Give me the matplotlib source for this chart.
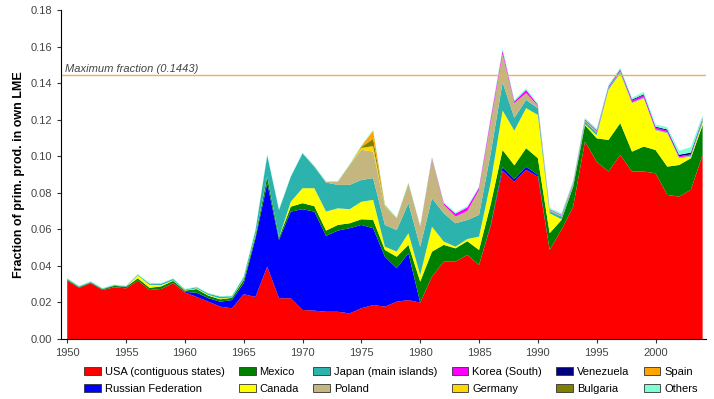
import matplotlib
matplotlib.use("Agg")
import matplotlib.pyplot as plt
from matplotlib.patches import Patch

plt.rcParams['font.family'] = ['Liberation Sans', 'DejaVu Sans']

years = list(range(1950, 2005))

# fraction of primary production, one list per country (stacked bottom -> top)
usa = [0.0320, 0.0280, 0.0305, 0.0268, 0.0283, 0.0277, 0.0320, 0.0268, 0.0274, 0.0305,
       0.0255, 0.0230, 0.0204, 0.0177, 0.0168, 0.0245, 0.0230, 0.0396, 0.0223, 0.0223,
       0.0159, 0.0155, 0.0149, 0.0149, 0.0140, 0.0168, 0.0186, 0.0177, 0.0204, 0.0213,
       0.0199, 0.0341, 0.0423, 0.0423, 0.0460, 0.0405, 0.0620, 0.0920, 0.0860, 0.0925,
       0.0888, 0.0487, 0.0597, 0.0724, 0.1080, 0.0970, 0.0916, 0.1007, 0.0916, 0.0916,
       0.0907, 0.0788, 0.0779, 0.0816, 0.1007]
russia = [0, 0, 0, 0, 0, 0, 0, 0, 0, 0,
          0.0003, 0.0023, 0.0019, 0.0027, 0.0045, 0.0060, 0.0320, 0.0456, 0.0319, 0.0474,
          0.0551, 0.0542, 0.0415, 0.0444, 0.0466, 0.0456, 0.0420, 0.0273, 0.0183, 0.0256,
          0, 0, 0, 0, 0, 0, 0.0005, 0.0020, 0.0015, 0.0018,
          0.0010, 0, 0, 0, 0, 0, 0, 0, 0, 0,
          0, 0, 0, 0, 0]
mexico = [0.0005, 0.0004, 0.0004, 0.0004, 0.0008, 0.0008, 0.0012, 0.0012, 0.0014, 0.0013,
          0.0007, 0.0020, 0.0014, 0.0013, 0.0012, 0.0018, 0.0015, 0.0036, 0.0013, 0.0027,
          0.0033, 0.0030, 0.0029, 0.0031, 0.0027, 0.0031, 0.0046, 0.0037, 0.0063, 0.0046,
          0.0115, 0.0137, 0.0092, 0.0073, 0.0075, 0.0082, 0.0115, 0.0094, 0.0075, 0.0101,
          0.0091, 0.0092, 0.0054, 0.0110, 0.0090, 0.0128, 0.0173, 0.0174, 0.0109, 0.0137,
          0.0127, 0.0155, 0.0173, 0.0173, 0.0164]
canada = [0, 0, 0, 0, 0, 0, 0.0016, 0.0016, 0.0007, 0.0003,
          0.0002, 0.0004, 0.0004, 0.0005, 0.0002, 0.0004, 0.0005, 0.0002, 0.0001, 0.0027,
          0.0082, 0.0098, 0.0104, 0.0091, 0.0077, 0.0096, 0.0109, 0.0018, 0.0028, 0.0064,
          0.0036, 0.0136, 0.0018, 0.0009, 0.0012, 0.0073, 0.0120, 0.0216, 0.0190, 0.0219,
          0.0237, 0.0109, 0.0004, 0.0004, 0.0005, 0.0017, 0.0274, 0.0273, 0.0265, 0.0264,
          0.0108, 0.0183, 0.0037, 0.0009, 0.0014]
japan = [0.0005, 0.0004, 0.0004, 0.0004, 0.0004, 0.0004, 0.0004, 0.0007, 0.0008, 0.0008,
         0.0004, 0.0006, 0.0007, 0.0010, 0.0007, 0.0012, 0.0025, 0.0115, 0.0150, 0.0137,
         0.0191, 0.0118, 0.0159, 0.0128, 0.0133, 0.0119, 0.0119, 0.0119, 0.0118, 0.0164,
         0.0155, 0.0156, 0.0155, 0.0128, 0.0104, 0.0119, 0.0160, 0.0154, 0.0070, 0.0045,
         0.0037, 0.0012, 0.0015, 0.0010, 0.0015, 0.0015, 0.0008, 0.0008, 0.0003, 0.0003,
         0.0003, 0.0003, 0.0003, 0.0003, 0.0015]
poland = [0, 0, 0, 0, 0, 0, 0, 0, 0, 0,
          0, 0, 0, 0, 0, 0, 0, 0, 0, 0,
          0, 0.0002, 0.0003, 0.0018, 0.0109, 0.0165, 0.0145, 0.0100, 0.0065, 0.0109,
          0.0109, 0.0215, 0.0046, 0.0037, 0.0049, 0.0136, 0.0170, 0.0156, 0.0080, 0.0037,
          0.0012, 0.0006, 0.0006, 0.0006, 0.0005, 0.0005, 0.0003, 0.0003, 0.0002, 0.0002,
          0.0002, 0.0002, 0.0002, 0.0002, 0.0002]
korea = [0, 0, 0, 0, 0, 0, 0, 0, 0, 0,
         0, 0, 0, 0, 0, 0, 0, 0, 0, 0,
         0, 0, 0, 0, 0, 0, 0, 0, 0, 0,
         0.0002, 0.0006, 0.0009, 0.0016, 0.0020, 0.0013, 0.0020, 0.0018, 0.0010, 0.0018,
         0.0006, 0.0004, 0.0004, 0.0005, 0.0005, 0.0005, 0.0005, 0.0006, 0.0010, 0.0012,
         0.0010, 0.0009, 0.0006, 0.0007, 0.0004]
germany = [0] * 25 + [0.0010, 0.0030, 0.0003] + [0] * 27
venezuela = [0] * 44 + [0.0002, 0.0002, 0.0003, 0.0004, 0.0005, 0.0005,
                        0.0005, 0.0006, 0.0008, 0.0010, 0.0003]
bulgaria = [0] * 25 + [0.0005, 0.0040, 0.0003] + [0] * 27
spain = [0] * 25 + [0.0005, 0.0045, 0.0002] + [0] * 27
others = [0.0003, 0.0003, 0.0003, 0.0003, 0.0003, 0.0003, 0.0003, 0.0003, 0.0003, 0.0003,
          0.0003, 0.0003, 0.0003, 0.0003, 0.0003, 0.0003, 0.0005, 0.0005, 0.0004, 0.0004,
          0.0004, 0.0004, 0.0004, 0.0004, 0.0004, 0.0005, 0.0005, 0.0005, 0.0005, 0.0005,
          0.0005, 0.0006, 0.0006, 0.0006, 0.0007, 0.0007, 0.0010, 0.0012, 0.0008, 0.0008,
          0.0008, 0.0008, 0.0008, 0.0008, 0.0008, 0.0008, 0.0008, 0.0008, 0.0010, 0.0013,
          0.0012, 0.0013, 0.0022, 0.0030, 0.0015]

names = ['USA (contiguous states)', 'Russian Federation', 'Mexico', 'Canada',
         'Japan (main islands)', 'Poland', 'Korea (South)', 'Germany',
         'Venezuela', 'Bulgaria', 'Spain', 'Others']
series = [usa, russia, mexico, canada, japan, poland, korea, germany,
          venezuela, bulgaria, spain, others]
colors = ['#FF0000', '#0000FF', '#008000', '#FFFF00', '#2CB3AE', '#C4B67E',
          '#FF00FF', '#FFD700', '#000080', '#808000', '#FFA500', '#7FFFD4']

max_fraction = 0.1443

fig = plt.figure(figsize=(7.14, 3.99), dpi=100)
ax = fig.add_axes([0.0854, 0.1504, 0.9036, 0.8246])

ax.stackplot(years, *series, colors=colors, linewidth=0)

ax.axhline(max_fraction, color='#F2B04A', linewidth=1)
ax.text(1949.8, max_fraction + 0.0008, 'Maximum fraction (%.4f)' % max_fraction,
        fontsize=8, style='italic', color='#444444', va='bottom', ha='left')

ax.set_xlim(1949.47, 2004.3)
ax.set_ylim(0, 0.18)
ax.set_xticks(range(1950, 2005, 5))
ax.set_yticks([i * 0.02 for i in range(10)])
ax.yaxis.set_major_formatter(matplotlib.ticker.FormatStrFormatter('%.2f'))
ax.tick_params(labelsize=8, colors='#333333', length=3, labelcolor='#444444')
ax.spines['top'].set_visible(False)
ax.spines['right'].set_visible(False)
ax.set_ylabel('Fraction of prim. prod. in own LME', fontsize=9, fontweight='bold',
              labelpad=4)

handles = [Patch(facecolor=c, edgecolor='#333333', linewidth=0.6) for c in colors]
fig.legend(handles, names, loc='upper left', bbox_to_anchor=(0.1176, 0.080),
           ncol=6, frameon=False, fontsize=8, handlelength=1.5, handleheight=0.75,
           handletextpad=0.35, columnspacing=1.3, labelspacing=0.6,
           borderaxespad=0, borderpad=0)

fig.savefig('out.png', dpi=100)
